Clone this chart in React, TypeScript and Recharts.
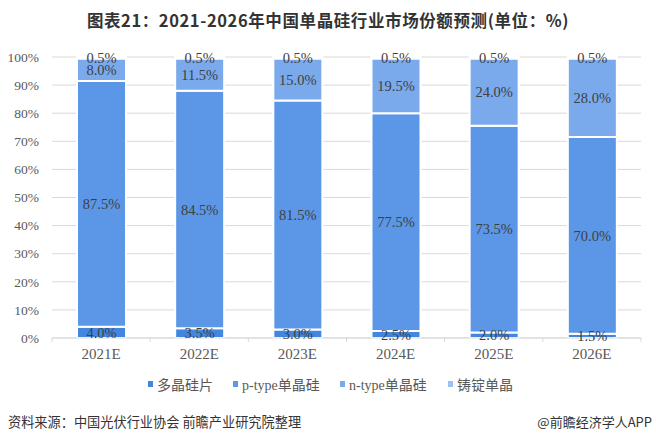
import React from "react";
import { Bar, BarChart, CartesianGrid, LabelList, XAxis, YAxis } from "recharts";

const years = ["2021E", "2022E", "2023E", "2024E", "2025E", "2026E"];
const polySi = [4.0, 3.5, 3.0, 2.5, 2.0, 1.5];
const pType = [87.5, 84.5, 81.5, 77.5, 73.5, 70.0];
const nType = [8.0, 11.5, 15.0, 19.5, 24.0, 28.0];
const castMono = [0.5, 0.5, 0.5, 0.5, 0.5, 0.5];
const yTicks = [0, 10, 20, 30, 40, 50, 60, 70, 80, 90, 100];

const series = [
  { key: "poly", name: "多晶硅片", color: "#4286e0" },
  { key: "p", name: "p-type单晶硅", color: "#5b97e6" },
  { key: "n", name: "n-type单晶硅", color: "#7aaaec" },
  { key: "cast", name: "铸锭单晶", color: "#9dc1f4" },
];

const data = years.map((year, i) => ({
  year,
  poly: polySi[i],
  p: pType[i],
  n: nType[i],
  cast: castMono[i],
}));

const serif = '"Liberation Serif", "Noto Sans CJK SC", serif';
const cjk = '"Noto Sans CJK SC", "Liberation Serif", sans-serif';

// x ticks: label in the middle, small tick marks at the band edges
const XTick = (props: any) => {
  const { x, y, payload, index } = props;
  const half = 49.1;
  return (
    <g>
      <line x1={x - half} y1={y - 8} x2={x - half} y2={y - 4} stroke="#d9d9d9" />
      {index === years.length - 1 && (
        <line x1={x + half} y1={y - 8} x2={x + half} y2={y - 4} stroke="#d9d9d9" />
      )}
      <text x={x} y={y + 13} textAnchor="middle" fill="#595959" fontSize={15} fontFamily={serif}>
        {payload.value}
      </text>
    </g>
  );
};

// legend markers sit at x = 148, 233, 340, 448 in the reference
const legendLeft = [148, 233, 340, 448];

export default function App() {
  return (
    <div style={{ position: "absolute", left: 0, top: 0, width: 656, height: 443, background: "#fff", overflow: "hidden" }}>
      <div
        style={{
          position: "absolute",
          top: 9,
          left: 0,
          width: 656,
          textAlign: "center",
          fontFamily: cjk,
          fontWeight: 700,
          fontSize: 16.5,
          letterSpacing: 0.6,
          lineHeight: "22px",
          color: "#333",
        }}
      >
        图表21：2021-2026年中国单晶硅行业市场份额预测(单位：%)
      </div>

      <BarChart
        width={656}
        height={443}
        data={data}
        margin={{ top: 57, right: 15, bottom: 75, left: 0 }}
        barCategoryGap={0}
      >
        <CartesianGrid vertical={false} stroke="#d9d9d9" />
        <XAxis
          dataKey="year"
          height={30}
          axisLine={{ stroke: "#d9d9d9" }}
          tickLine={false}
          tick={<XTick />}
          interval={0}
        />
        <YAxis
          width={52}
          domain={[0, 100]}
          ticks={yTicks}
          tickFormatter={(v) => `${v}%`}
          axisLine={false}
          tickLine={false}
          tickMargin={7}
          tick={{ fill: "#595959", fontSize: 13.5, fontFamily: serif }}
        />
        {series.map((s) => (
          <Bar
            key={s.key}
            dataKey={s.key}
            name={s.name}
            stackId="a"
            fill={s.color}
            stroke="#fff"
            strokeWidth={2}
            barSize={49}
            isAnimationActive={false}
          >
            <LabelList
              dataKey={s.key}
              position="center"
              formatter={(v: any) => `${Number(v).toFixed(1)}%`}
              fill="#404040"
              fontSize={14.5}
              fontFamily={serif}
            />
          </Bar>
        ))}
      </BarChart>

      {series.map((s, i) => (
        <div
          key={s.key}
          style={{
            position: "absolute",
            left: legendLeft[i],
            top: 375,
            height: 18,
            display: "flex",
            alignItems: "center",
            fontSize: 14,
            color: "#595959",
            whiteSpace: "nowrap",
          }}
        >
          <span style={{ width: 5, height: 6, background: s.color, marginRight: 4, display: "inline-block" }} />
          {s.key === "p" || s.key === "n" ? (
            <span style={{ fontFamily: serif }}>
              {s.name.slice(0, 6)}
              <span style={{ fontFamily: cjk }}>{s.name.slice(6)}</span>
            </span>
          ) : (
            <span style={{ fontFamily: cjk }}>{s.name}</span>
          )}
        </div>
      ))}

      <div style={{ position: "absolute", left: 8, top: 413, fontFamily: cjk, fontSize: 13.2, lineHeight: "18px", color: "#333" }}>
        资料来源：中国光伏行业协会 前瞻产业研究院整理
      </div>
      <div style={{ position: "absolute", right: 4, top: 413, fontFamily: cjk, fontSize: 13, lineHeight: "18px", color: "#333" }}>
        @前瞻经济学人APP
      </div>
    </div>
  );
}
